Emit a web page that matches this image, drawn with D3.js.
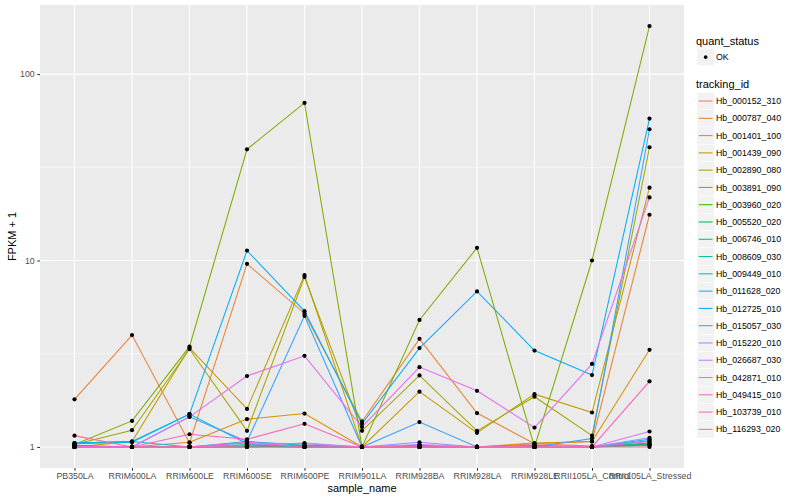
<!DOCTYPE html>
<html>
<head>
<meta charset="utf-8">
<script src="https://cdn.jsdelivr.net/npm/d3@7"></script>
<style>
  body { margin: 0; background: #ffffff; }
  svg { display: block; font-family: "Liberation Sans", Arial, sans-serif; }
</style>
</head>
<body>
<svg id="chart" width="800" height="500"></svg>
<script>
// ---------- data ----------
const samples = ["PB350LA", "RRIM600LA", "RRIM600LE", "RRIM600SE", "RRIM600PE", "RRIM901LA",
  "RRIM928BA", "RRIM928LA", "RRIM928LE", "RRII105LA_Control", "RRII105LA_Stressed"];

const trackingIds = ["Hb_000152_310", "Hb_000787_040", "Hb_001401_100", "Hb_001439_090",
  "Hb_002890_080", "Hb_003891_090", "Hb_003960_020", "Hb_005520_020", "Hb_006746_010",
  "Hb_008609_030", "Hb_009449_010", "Hb_011628_020", "Hb_012725_010", "Hb_015057_030",
  "Hb_015220_010", "Hb_026687_030", "Hb_042871_010", "Hb_049415_010", "Hb_103739_010",
  "Hb_116293_020"];

// FPKM + 1, one value per sample (same order as samples)
const Hb_000152_310 = [1, 1, 1, 1.02, 1, 1, 1, 1, 1.04, 1.01, 1.03];
const Hb_000787_040 = [1.80, 3.98, 1.05, 9.6, 5.2, 1.37, 3.8, 1.52, 1.04, 1.07, 17.6];
const Hb_001401_100 = [1.0, 1.0, 1.06, 1.41, 1.51, 1.0, 1.0, 1.0, 1.05, 1.07, 3.32];
const Hb_001439_090 = [1.0, 1.07, 3.4, 1.6, 8.35, 1.0, 1.98, 1.19, 1.92, 1.53, 24.6];
const Hb_002890_080 = [1.03, 1.23, 3.35, 1.22, 8.15, 1.22, 2.42, 1.22, 1.86, 1.15, 40.5];
const Hb_003891_090 = [1.03, 1.38, 3.45, 39.5, 70, 1.0, 4.8, 11.7, 1.0, 10.0, 181];
const Hb_003960_020 = [1, 1, 1, 1, 1, 1, 1, 1, 1, 1, 1.03];
const Hb_005520_020 = [1, 1, 1, 1.01, 1, 1, 1, 1, 1, 1, 1.05];
const Hb_006746_010 = [1, 1, 1, 1, 1.02, 1, 1, 1, 1, 1, 1.04];
const Hb_008609_030 = [1.02, 1, 1, 1.03, 1, 1, 1, 1, 1, 1, 1.02];
const Hb_009449_010 = [1.05, 1.07, 1, 1.07, 1.02, 1, 1.02, 1, 1, 1, 1.08];
const Hb_011628_020 = [1.04, 1.06, 1.5, 1.04, 1, 1, 1.01, 1, 1.02, 1, 1.1];
const Hb_012725_010 = [1.05, 1.07, 1.5, 11.3, 5.35, 1.33, 3.39, 6.83, 3.29, 2.43, 57.7];
const Hb_015057_030 = [1.0, 1.0, 1.45, 1.07, 5.05, 1.0, 1.36, 1.0, 1.0, 1.11, 50.6];
const Hb_015220_010 = [1, 1, 1, 1.05, 1.04, 1, 1.06, 1, 1, 1, 1.12];
const Hb_026687_030 = [1, 1, 1, 1.02, 1.05, 1, 1.03, 1, 1, 1, 1.21];
const Hb_042871_010 = [1, 1, 1.45, 2.4, 3.08, 1.28, 2.68, 2.0, 1.27, 2.79, 21.8];
const Hb_049415_010 = [1, 1, 1, 1.06, 1, 1, 1, 1, 1, 1, 1.07];
const Hb_103739_010 = [1, 1, 1.17, 1.1, 1.33, 1, 1, 1, 1, 1, 2.25];
const Hb_116293_020 = [1.15, 1, 1, 1, 1, 1, 1, 1, 1, 1, 1];

const seriesValues = [Hb_000152_310, Hb_000787_040, Hb_001401_100, Hb_001439_090,
  Hb_002890_080, Hb_003891_090, Hb_003960_020, Hb_005520_020, Hb_006746_010,
  Hb_008609_030, Hb_009449_010, Hb_011628_020, Hb_012725_010, Hb_015057_030,
  Hb_015220_010, Hb_026687_030, Hb_042871_010, Hb_049415_010, Hb_103739_010,
  Hb_116293_020];

const yTicks = [1, 10, 100];
const yMinor = [Math.pow(10, 0.5), Math.pow(10, 1.5)];
const quantStatus = ["OK"];

// ---------- style ----------
const palette = ["#F8766D", "#EA8331", "#D89000", "#C09B00", "#A3A500", "#7CAE00", "#39B600",
  "#00BB4E", "#00BF7D", "#00C1A3", "#00BFC4", "#00BAE0", "#00B0F6", "#35A2FF", "#9590FF",
  "#C77CFF", "#E76BF3", "#FA62DB", "#FF62BC", "#FF6C91"];

const panel = { left: 40, right: 684, top: 5, bottom: 468 };

const svg = d3.select("#chart");

// scales
const x = d3.scalePoint().domain(samples).range([panel.left, panel.right]).padding(0.6);
const allVals = seriesValues.flat();
const lmin = Math.log10(d3.min(allVals)), lmax = Math.log10(d3.max(allVals));
const ex = (lmax - lmin) * 0.05;
const y = d3.scaleLog().domain([Math.pow(10, lmin - ex), Math.pow(10, lmax + ex)])
  .range([panel.bottom, panel.top]);

// panel background
svg.append("rect").attr("x", panel.left).attr("y", panel.top)
  .attr("width", panel.right - panel.left).attr("height", panel.bottom - panel.top)
  .attr("fill", "#EBEBEB");

// grid
const grid = svg.append("g");
grid.selectAll(".ymin").data(yMinor).enter().append("line")
  .attr("x1", panel.left).attr("x2", panel.right)
  .attr("y1", d => y(d)).attr("y2", d => y(d))
  .attr("stroke", "#ffffff").attr("stroke-width", 0.55);
grid.selectAll(".ymaj").data(yTicks).enter().append("line")
  .attr("x1", panel.left).attr("x2", panel.right)
  .attr("y1", d => y(d)).attr("y2", d => y(d))
  .attr("stroke", "#ffffff").attr("stroke-width", 1.1);
grid.selectAll(".xmaj").data(samples).enter().append("line")
  .attr("x1", d => x(d)).attr("x2", d => x(d))
  .attr("y1", panel.top).attr("y2", panel.bottom)
  .attr("stroke", "#ffffff").attr("stroke-width", 1.1);

// lines
const line = d3.line().x((d, i) => x(samples[i])).y(d => y(d));
const lines = svg.append("g");
seriesValues.forEach((vals, k) => {
  lines.append("path").datum(vals).attr("d", line)
    .attr("fill", "none").attr("stroke", palette[k]).attr("stroke-width", 1.05);
});

// points
const pts = svg.append("g");
seriesValues.forEach((vals) => {
  pts.selectAll(null).data(vals).enter().append("circle")
    .attr("cx", (d, i) => x(samples[i])).attr("cy", d => y(d))
    .attr("r", 2.1).attr("fill", "#000000");
});

// axes
const xAxis = d3.axisBottom(x).tickSize(2.75).tickPadding(2.5);
const gx = svg.append("g").attr("transform", `translate(0,${panel.bottom})`).call(xAxis);
gx.select(".domain").remove();
gx.selectAll(".tick line").attr("stroke", "#333333").attr("stroke-width", 1.05);
gx.selectAll(".tick text").attr("fill", "#4D4D4D").attr("font-size", "8.8px")
  .attr("font-family", "Liberation Sans, Arial, sans-serif");

const yAxis = d3.axisLeft(y).tickValues(yTicks).tickFormat(d3.format("d")).tickSize(2.75).tickPadding(2.5);
const gy = svg.append("g").attr("transform", `translate(${panel.left},0)`).call(yAxis);
gy.select(".domain").remove();
gy.selectAll(".tick line").attr("stroke", "#333333").attr("stroke-width", 1.05);
gy.selectAll(".tick text").attr("fill", "#4D4D4D").attr("font-size", "8.8px")
  .attr("font-family", "Liberation Sans, Arial, sans-serif");

// axis titles
svg.append("text").attr("x", (panel.left + panel.right) / 2).attr("y", 492)
  .attr("text-anchor", "middle").attr("font-size", "11px").attr("fill", "#000")
  .text("sample_name");
svg.append("text").attr("transform", `translate(16,${(panel.top + panel.bottom) / 2}) rotate(-90)`)
  .attr("text-anchor", "middle").attr("font-size", "11px").attr("fill", "#000")
  .text("FPKM + 1");

// legend
const lg = svg.append("g");
const keyX = 697, keyW = 17.28;
lg.append("text").attr("x", 696).attr("y", 44.5).attr("font-size", "11px").text("quant_status");
quantStatus.forEach((q, i) => {
  const ky = 48.5 + i * keyW;
  lg.append("rect").attr("x", keyX).attr("y", ky).attr("width", keyW).attr("height", keyW)
    .attr("fill", "#F2F2F2").attr("stroke", "#ffffff").attr("stroke-width", 0.5);
  lg.append("circle").attr("cx", keyX + keyW / 2).attr("cy", ky + keyW / 2).attr("r", 1.8).attr("fill", "#000");
  lg.append("text").attr("x", 716).attr("y", ky + keyW / 2 + 3.1).attr("font-size", "8.8px").text(q);
});
lg.append("text").attr("x", 696).attr("y", 88).attr("font-size", "11px").text("tracking_id");
trackingIds.forEach((id, i) => {
  const ky = 92.4 + i * keyW;
  lg.append("rect").attr("x", keyX).attr("y", ky).attr("width", keyW).attr("height", keyW)
    .attr("fill", "#F2F2F2").attr("stroke", "#ffffff").attr("stroke-width", 0.5);
  lg.append("line").attr("x1", keyX + 1.7).attr("x2", keyX + keyW - 1.7)
    .attr("y1", ky + keyW / 2).attr("y2", ky + keyW / 2)
    .attr("stroke", palette[i]).attr("stroke-width", 1.05);
  lg.append("text").attr("x", 716).attr("y", ky + keyW / 2 + 3.1).attr("font-size", "8.8px").text(id);
});
</script>
</body>
</html>
